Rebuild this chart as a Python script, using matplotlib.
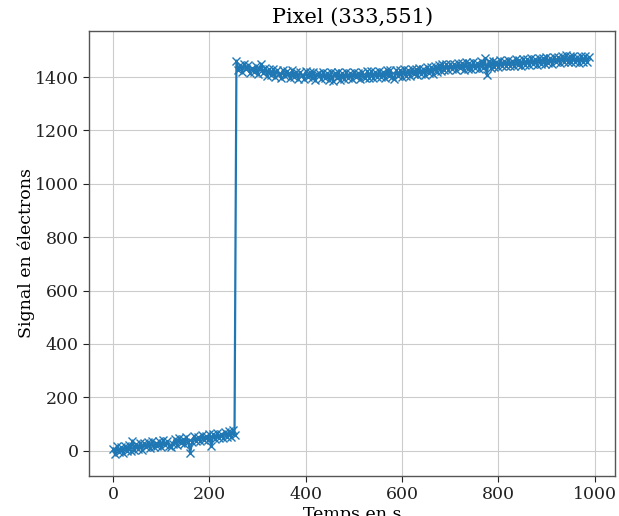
import numpy as np
import matplotlib
matplotlib.use("Agg")
import matplotlib.pyplot as plt

# Sampling times (s)
time = np.arange(0, 992, 4)

# Signal before the jump (t = 0 .. 252 s)
signal_low = [
    8, -12, 16, -6, 12, -10, 18, -2, 20, 0,
    38, 4, 24, 8, 30, 3, 27, 12, 33, 9,
    35, 14, 30, 18, 37, 13, 39, 21, 36, 19,
    12, 24, 45, 22, 47, 29, 44, 26, 50, 31,
    -8, 33, 54, 36, 51, 35, 58, 39, 55, 40,
    63, 18, 61, 44, 66, 47, 63, 48, 70, 50,
    72, 52, 76, 57,
]

# Signal after the jump (t = 256 .. 988 s)
signal_high = [
    1462, 1428, 1446, 1420, 1449, 1431, 1447, 1416, 1434, 1419,
    1441, 1413, 1432, 1450, 1414, 1433, 1405, 1429, 1407, 1431,
    1401, 1428, 1410, 1398, 1425, 1403, 1424, 1412, 1396, 1426,
    1399, 1421, 1394, 1418, 1408, 1393, 1422, 1400, 1419, 1395,
    1420, 1391, 1412, 1417, 1392, 1419, 1397, 1416, 1390, 1418,
    1386, 1417, 1398, 1420, 1391, 1414, 1393, 1419, 1396, 1416,
    1392, 1420, 1399, 1417, 1394, 1421, 1402, 1396, 1422, 1398,
    1423, 1396, 1418, 1401, 1424, 1400, 1420, 1398, 1426, 1403,
    1425, 1399, 1392, 1428, 1404, 1426, 1401, 1430, 1406, 1427,
    1404, 1431, 1410, 1429, 1407, 1434, 1412, 1432, 1409, 1438,
    1414, 1437, 1412, 1441, 1420, 1445, 1423, 1448, 1426, 1450,
    1425, 1451, 1431, 1449, 1426, 1454, 1433, 1452, 1428, 1455,
    1430, 1453, 1431, 1457, 1434, 1452, 1432, 1459, 1436, 1470,
    1408, 1459, 1435, 1462, 1439, 1458, 1437, 1464, 1441, 1461,
    1440, 1466, 1443, 1462, 1441, 1468, 1446, 1464, 1442, 1469,
    1447, 1467, 1444, 1471, 1449, 1468, 1446, 1473, 1450, 1470,
    1448, 1475, 1452, 1472, 1450, 1477, 1455, 1474, 1452, 1479,
    1456, 1484, 1458, 1478, 1455, 1481, 1457, 1477, 1454, 1480,
    1457, 1478, 1455, 1476,
]

signal = np.array(signal_low + signal_high, dtype=float)

plt.rcParams['font.family'] = ['DejaVu Serif']

fig = plt.figure(figsize=(6.19, 5.16), dpi=100)
ax = fig.add_axes([0.144, 0.078, 0.85, 0.862])

ax.plot(time, signal, marker='x', color='#1f77b4', linewidth=1.6,
        markersize=5.5, markeredgewidth=1.0)

ax.set_xlim(-50, 1043)
ax.set_ylim(-94, 1573)
ax.set_xticks([0, 200, 400, 600, 800, 1000])
ax.set_yticks([0, 200, 400, 600, 800, 1000, 1200, 1400])
ax.grid(True, color='#cccccc', linewidth=0.8)
ax.tick_params(labelsize=12.5, colors='#222222', length=4, width=0.8)
for s in ax.spines.values():
    s.set_color('#555555')
    s.set_linewidth(1.0)

ax.set_title('Pixel (333,551)', fontsize=15)
ax.set_xlabel('Temps en s', fontsize=12.5, labelpad=2)
ax.set_ylabel('Signal en électrons', fontsize=12.5, labelpad=0)

fig.savefig('out.png', dpi=100)
